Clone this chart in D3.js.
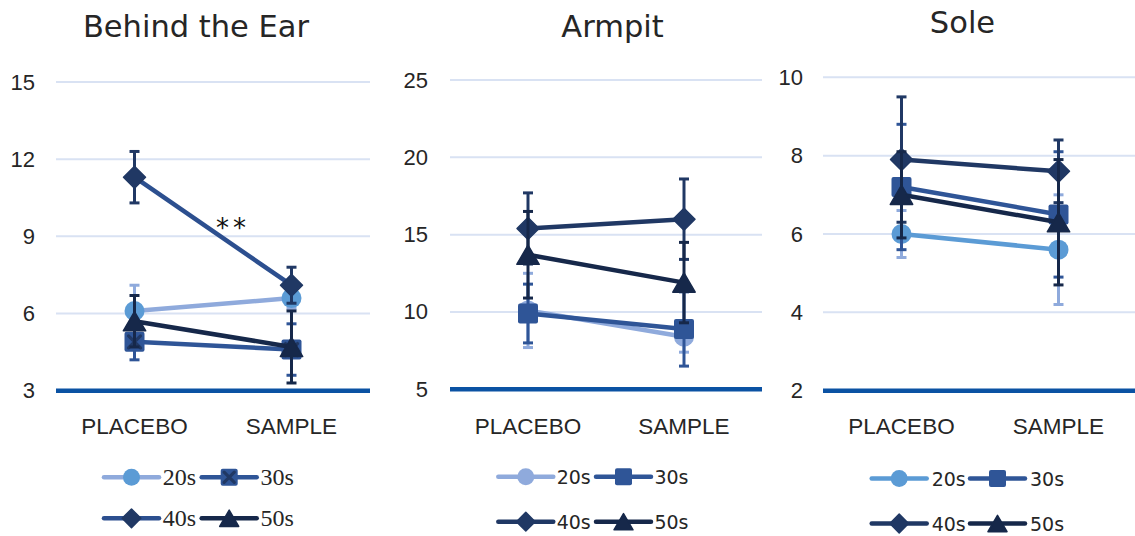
<!DOCTYPE html>
<html>
<head>
<meta charset="utf-8">
<script src="https://cdn.jsdelivr.net/npm/d3@7"></script>
<style>
  html, body { margin: 0; padding: 0; background: #ffffff; }
  svg { display: block; }
  .serif { font-family: "Liberation Serif", "DejaVu Serif", serif; }
  .sans { font-family: "DejaVu Sans", sans-serif; }
</style>
</head>
<body>
<svg id="chart" width="1135" height="536"></svg>
<script>
// ---------- DATA ----------
const categories = ["PLACEBO", "SAMPLE"];
const seriesNames = ["20s", "30s", "40s", "50s"];

const earValues = [[6.1, 6.6], [4.9, 4.6], [11.3, 7.1], [5.7, 4.7]];
const earErrors = [[1.0, 0.4], [0.7, 1.0], [1.0, 0.7], [1.0, 1.4]];
const earTicks = [3, 6, 9, 12, 15];

const armpitValues = [[10.1, 8.4], [9.9, 8.9], [15.4, 16.0], [13.7, 11.9]];
const armpitErrors = [[2.4, 1.0], [1.9, 2.4], [2.3, 2.6], [2.8, 2.6]];
const armpitTicks = [5, 10, 15, 20, 25];

const soleValues = [[6.0, 5.6], [7.2, 6.5], [7.9, 7.6], [7.0, 6.3]];
const soleErrors = [[0.6, 1.4], [1.6, 1.6], [1.6, 0.8], [1.1, 1.6]];
const soleTicks = [2, 4, 6, 8, 10];

const titles = ["Behind the Ear", "Armpit", "Sole"];
const significance = "**";

// ---------- STYLE / LAYOUT ----------
const shapes = ["circle", "square", "diamond", "triangle"];
const C20L = "#8faadc", C20M = "#5b9bd5", C30 = "#2f5597", C40 = "#203864", C50 = "#16284a";

const panels = [
  {
    title: titles[0], values: earValues, errors: earErrors, ticks: earTicks,
    left: 56, right: 370, top: 82, bottom: 390.7, labelX: 35,
    titleX: 196, titleY: 37,
    lineColors: [C20L, C30, "#2c4f8f", C50],
    markerColors: [C20M, C30, C40, C50],
    errColors: [C20L, C30, C40, C50],
    crossSquare: true,
    legend: { x0: 104, rows: [477.3, 518.3], step: 97.7, textDx: 58.7, cls: "serif", size: 24 },
    note: { text: significance, x: 233, y: 237 }
  },
  {
    title: titles[1], values: armpitValues, errors: armpitErrors, ticks: armpitTicks,
    left: 450, right: 762, top: 80, bottom: 389.3, labelX: 428,
    titleX: 612.5, titleY: 37,
    lineColors: [C20L, C30, C40, C50],
    markerColors: [C20L, C30, C40, C50],
    errColors: [C20L, C30, C40, C50],
    crossSquare: false,
    legend: { x0: 498.3, rows: [476.7, 521.7], step: 97.7, textDx: 58.4, cls: "sans", size: 19 }
  },
  {
    title: titles[2], values: soleValues, errors: soleErrors, ticks: soleTicks,
    left: 823, right: 1137, top: 77.3, bottom: 390.7, labelX: 803,
    titleX: 962.5, titleY: 33,
    lineColors: [C20M, C30, C40, C50],
    markerColors: [C20M, C30, C40, C50],
    errColors: [C20L, C30, C40, C50],
    crossSquare: false,
    legend: { x0: 871.7, rows: [478.5, 523.5], step: 98.3, textDx: 60, cls: "sans", size: 19 }
  }
];

const svg = d3.select("#chart");
svg.append("rect").attr("width", 1135).attr("height", 536).attr("fill", "#ffffff");

function drawMarker(g, shape, cx, cy, s, fill, cross) {
  if (shape === "circle") {
    g.append("circle").attr("cx", cx).attr("cy", cy).attr("r", s / 2).attr("fill", fill);
  } else if (shape === "square") {
    g.append("rect").attr("x", cx - s / 2).attr("y", cy - s / 2).attr("width", s).attr("height", s)
      .attr("rx", 2).attr("fill", fill);
    if (cross) {
      const d = s * 0.3;
      g.append("path")
        .attr("d", `M${cx - d},${cy - d}L${cx + d},${cy + d}M${cx + d},${cy - d}L${cx - d},${cy + d}`)
        .attr("stroke", C40).attr("stroke-width", 3.2).attr("stroke-linecap", "round").attr("fill", "none");
    }
  } else if (shape === "diamond") {
    const h = s * 0.55;
    g.append("path").attr("d", `M${cx},${cy - h}L${cx + h},${cy}L${cx},${cy + h}L${cx - h},${cy}Z`)
      .attr("fill", fill).attr("stroke", fill).attr("stroke-width", 1.5).attr("stroke-linejoin", "round");
  } else if (shape === "triangle") {
    const w = s * 0.56, hh = s * 0.48;
    g.append("path").attr("d", `M${cx},${cy - hh}L${cx + w},${cy + hh}L${cx - w},${cy + hh}Z`)
      .attr("fill", fill).attr("stroke", fill).attr("stroke-width", 1.5).attr("stroke-linejoin", "round");
  }
}

panels.forEach(p => {
  const g = svg.append("g");
  const x = d3.scalePoint().domain(categories).range([p.left, p.right]).padding(0.5);
  const y = d3.scaleLinear().domain([p.ticks[0], p.ticks[p.ticks.length - 1]])
    .range([p.bottom, p.top]);

  // gridlines
  g.append("g").selectAll("line").data(p.ticks.slice(1)).join("line")
    .attr("x1", p.left).attr("x2", p.right)
    .attr("y1", d => y(d)).attr("y2", d => y(d))
    .attr("stroke", "#d9e2f3").attr("stroke-width", 2);

  // baseline
  g.append("line").attr("x1", p.left).attr("x2", p.right)
    .attr("y1", y(p.ticks[0])).attr("y2", y(p.ticks[0]))
    .attr("stroke", "#0b52a3").attr("stroke-width", 4.5);

  // y tick labels
  g.append("g").selectAll("text").data(p.ticks).join("text")
    .attr("x", p.labelX).attr("y", d => y(d))
    .attr("text-anchor", "end").attr("dominant-baseline", "central")
    .style("font-family", "'Liberation Sans', Arial, sans-serif").attr("font-size", 22)
    .attr("fill", "#262626").text(d => d);

  // x labels
  g.append("g").selectAll("text").data(categories).join("text")
    .attr("x", d => x(d)).attr("y", 434)
    .attr("text-anchor", "middle")
    .style("font-family", "'Liberation Sans', Arial, sans-serif").attr("font-size", 22.5)
    .attr("fill", "#262626").text(d => d);

  // title
  g.append("text").attr("x", p.titleX).attr("y", p.titleY)
    .attr("text-anchor", "middle")
    .style("font-family", "'DejaVu Sans', Verdana, sans-serif").attr("font-size", 30.5)
    .attr("fill", "#262626").text(p.title);

  // series
  const line = d3.line().x((d, i) => x(categories[i])).y(d => y(d));
  p.values.forEach((vals, si) => {
    const sg = g.append("g");
    vals.forEach((v, ci) => {
      const e = p.errors[si][ci];
      const cx = x(categories[ci]);
      const y1 = y(v + e), y2 = y(v - e);
      sg.append("line").attr("x1", cx).attr("x2", cx).attr("y1", y1).attr("y2", y2)
        .attr("stroke", p.errColors[si]).attr("stroke-width", 3);
      [y1, y2].forEach(yy => {
        sg.append("line").attr("x1", cx - 5).attr("x2", cx + 5).attr("y1", yy).attr("y2", yy)
          .attr("stroke", p.errColors[si]).attr("stroke-width", 3);
      });
    });
    sg.append("path").attr("d", line(vals)).attr("fill", "none")
      .attr("stroke", p.lineColors[si]).attr("stroke-width", 4.5).attr("stroke-linecap", "round");
    vals.forEach((v, ci) => {
      drawMarker(sg, shapes[si], x(categories[ci]), y(v), 20, p.markerColors[si], p.crossSquare && si === 1);
    });
  });

  if (p.note) {
    g.append("text").attr("x", p.note.x).attr("y", p.note.y)
      .attr("text-anchor", "middle").attr("letter-spacing", 4)
      .style("font-family", "'DejaVu Sans', sans-serif").attr("font-size", 26)
      .attr("fill", "#111").text(p.note.text);
  }

  // legend
  const L = p.legend;
  seriesNames.forEach((name, si) => {
    const row = Math.floor(si / 2), col = si % 2;
    const lx = L.x0 + col * L.step, ly = L.rows[row];
    const lg = g.append("g");
    lg.append("line").attr("x1", lx).attr("x2", lx + 55).attr("y1", ly).attr("y2", ly)
      .attr("stroke", p.lineColors[si]).attr("stroke-width", 4.5).attr("stroke-linecap", "round");
    drawMarker(lg, shapes[si], lx + 27.5, ly, 17, p.markerColors[si], p.crossSquare && si === 1);
    lg.append("text").attr("class", L.cls).attr("x", lx + L.textDx).attr("y", ly)
      .attr("dominant-baseline", "central")
      .style("font-size", L.size + "px")
      .attr("fill", "#262626").text(name);
  });
});
</script>
</body>
</html>
